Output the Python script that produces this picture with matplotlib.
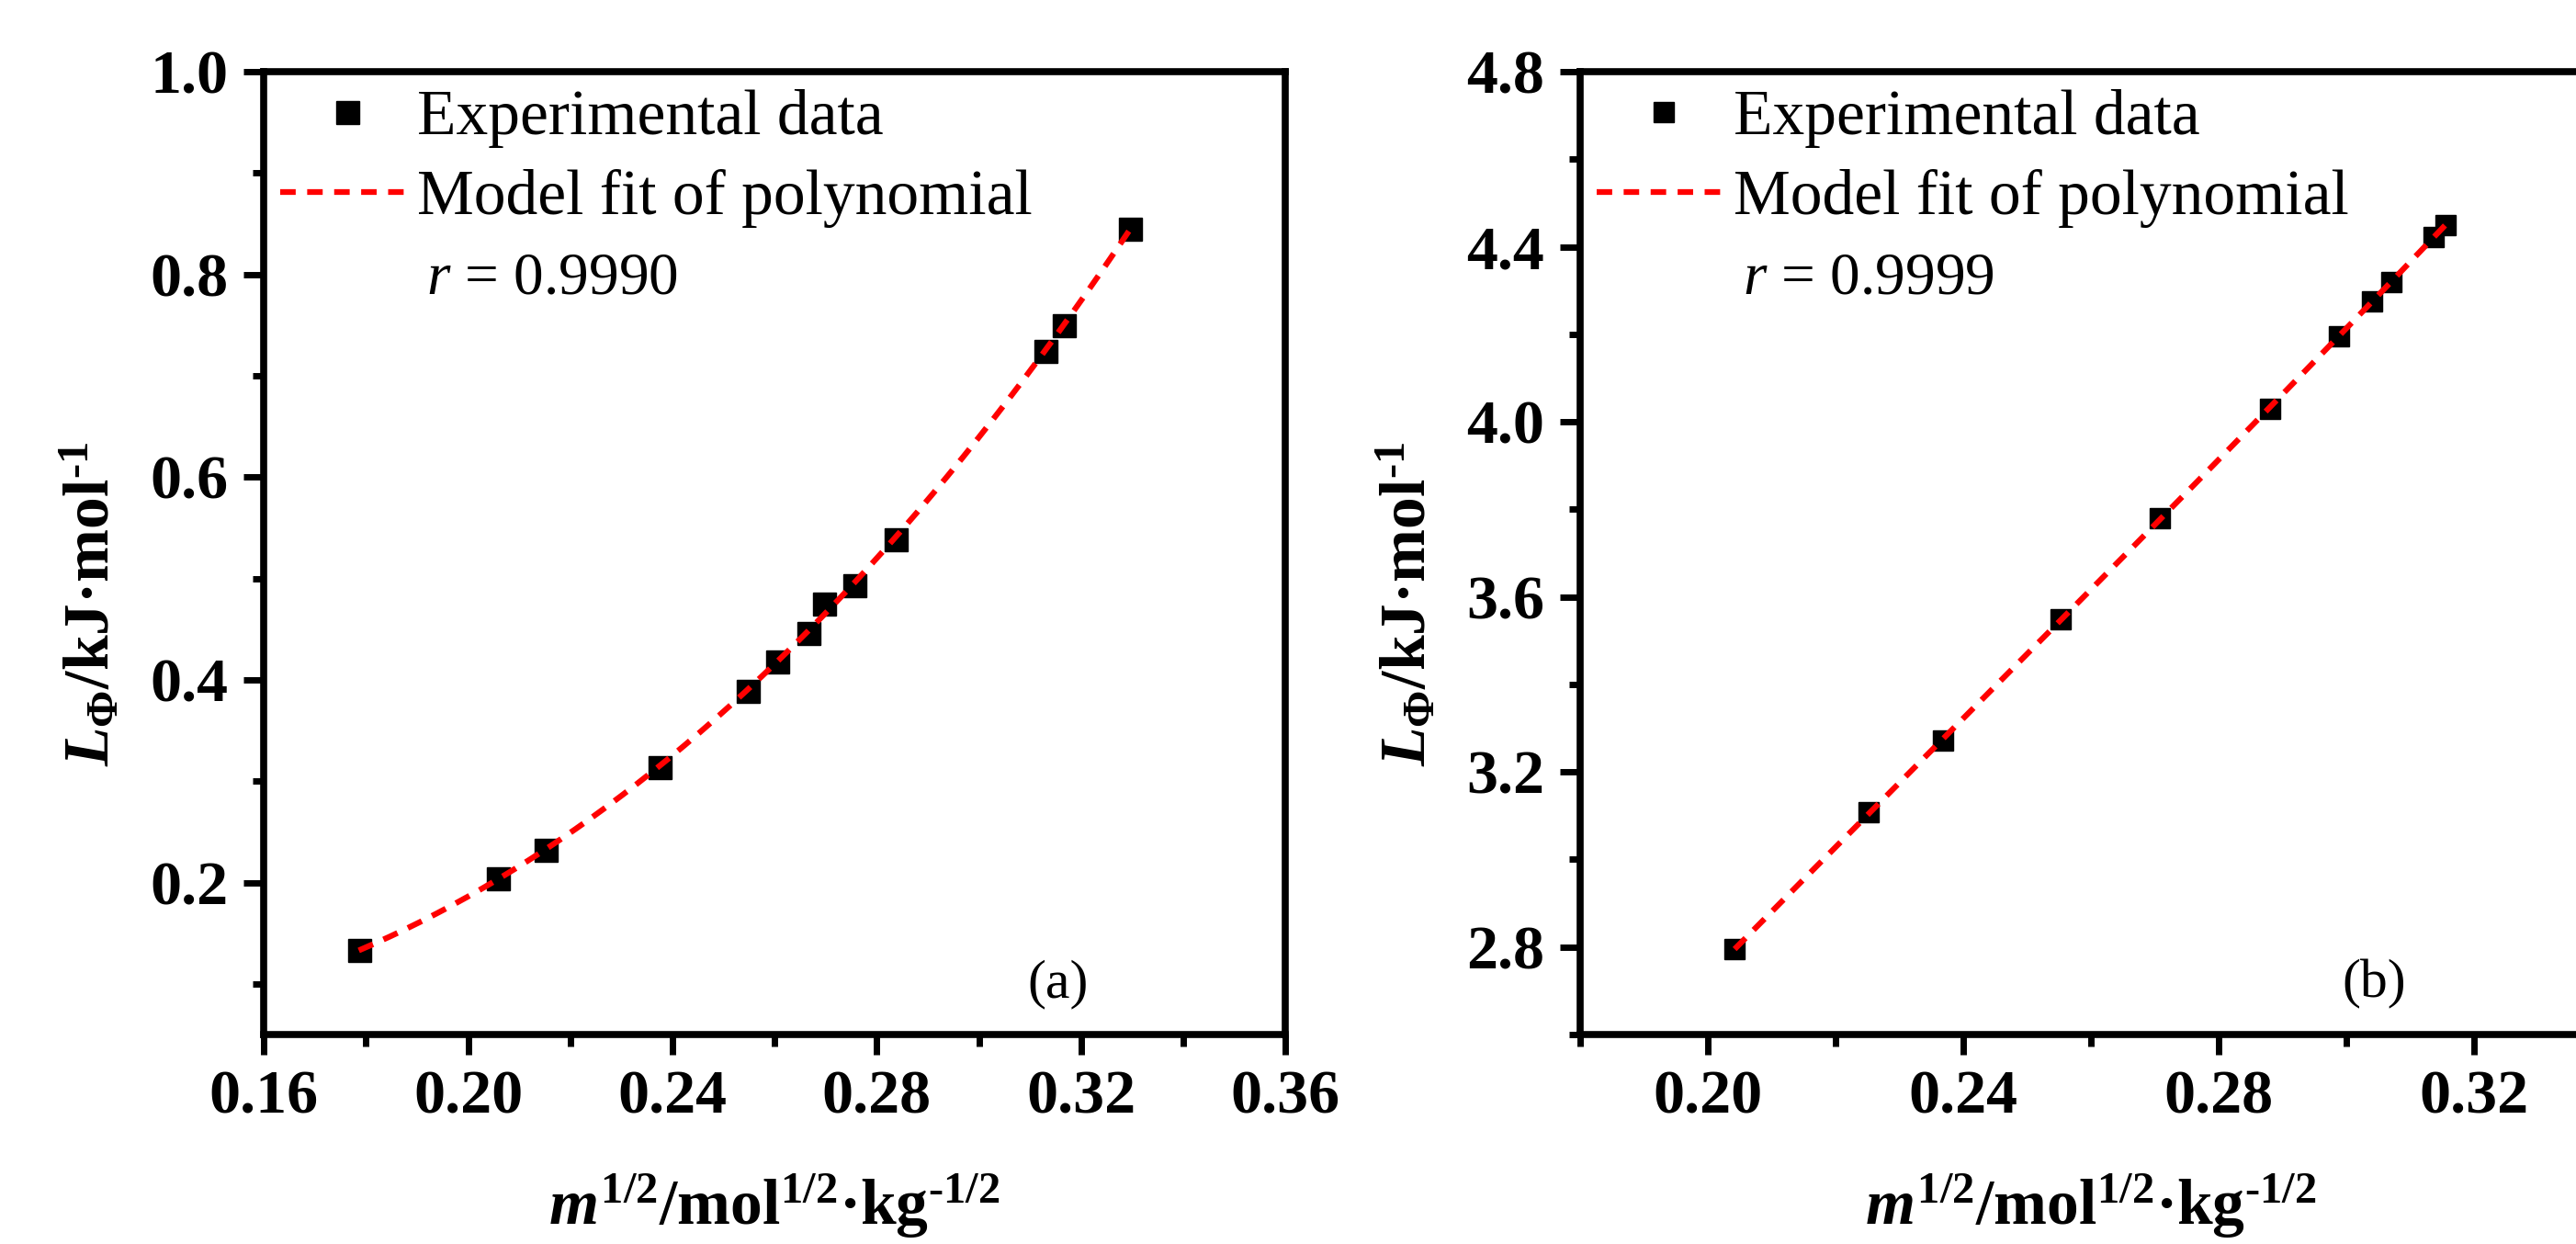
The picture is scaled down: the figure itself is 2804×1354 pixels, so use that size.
import numpy as np
import matplotlib
matplotlib.use("Agg")
import matplotlib.pyplot as plt
from matplotlib.ticker import MultipleLocator, FormatStrFormatter

# values
x_a = [0.1786, 0.2058, 0.2152, 0.2375, 0.2548, 0.2606, 0.2667, 0.2696, 0.2756, 0.2837, 0.3131, 0.3166, 0.3295]
y_a = [0.133, 0.204, 0.232, 0.314, 0.389, 0.418, 0.446, 0.475, 0.493, 0.539, 0.724, 0.750, 0.845]

x_b = [0.2042, 0.2252, 0.2369, 0.2552, 0.2708, 0.2880, 0.2989, 0.3040, 0.3070, 0.3137, 0.3156]
y_b = [2.795, 3.107, 3.272, 3.548, 3.779, 4.030, 4.196, 4.275, 4.320, 4.423, 4.450]

r_a = "0.9990"
r_b = "0.9999"

plt.rcParams["font.family"] = "serif"
plt.rcParams["font.serif"] = ["Liberation Serif", "DejaVu Serif"]
plt.rcParams["mathtext.fontset"] = "custom"
plt.rcParams["mathtext.rm"] = "Liberation Serif:bold"
plt.rcParams["mathtext.bf"] = "Liberation Serif:bold"
plt.rcParams["mathtext.it"] = "Liberation Serif:italic:bold"
plt.rcParams["mathtext.sf"] = "Liberation Serif:italic"

fig = plt.figure(figsize=(28.04, 13.54), dpi=100)
ax_a = fig.add_axes([0.1024, 0.1684, 0.3966, 0.774])
ax_b = fig.add_axes([0.6134, 0.1684, 0.3966, 0.774])


def draw(ax, x, y, r, xlim, ylim, xmaj, ymaj, yfmt, ms, tag):
    x = np.array(x)
    y = np.array(y)
    coef = np.polyfit(x, y, 3)
    xf = np.linspace(x.min(), x.max(), 200)
    ax.plot(x, y, ls="none", marker="s", ms=ms, color="black",
            label="Experimental data", zorder=2)
    ax.plot(xf, np.polyval(coef, xf), color="red", lw=4.5, dashes=(2.7, 2.0),
            label="Model fit of polynomial", zorder=3)

    ax.set_xlim(*xlim)
    ax.set_ylim(*ylim)
    ax.xaxis.set_major_locator(MultipleLocator(xmaj))
    ax.xaxis.set_minor_locator(MultipleLocator(xmaj / 2))
    ax.yaxis.set_major_locator(MultipleLocator(ymaj))
    ax.yaxis.set_minor_locator(MultipleLocator(ymaj / 2))
    ax.xaxis.set_major_formatter(FormatStrFormatter("%.2f"))
    ax.yaxis.set_major_formatter(FormatStrFormatter(yfmt))

    for s in ax.spines.values():
        s.set_linewidth(5.5)
    ax.tick_params(which="major", direction="out", length=16, width=5, labelsize=49)
    ax.tick_params(which="minor", direction="out", length=9, width=5)
    ax.tick_params(axis="x", pad=12)
    ax.tick_params(axis="y", pad=12)
    plt.setp(ax.get_xticklabels() + ax.get_yticklabels(), fontweight="bold")

    ax.set_xlabel("$\\mathit{m}^{1/2}\\mathrm{/mol^{1/2}\u00b7kg^{\u20101/2}}$", fontsize=50)
    ax.set_ylabel("$\\mathit{L}_{\\Phi}\\mathrm{/kJ\u00b7mol^{\u20101}}$", fontsize=50)
    ax.xaxis.set_label_coords(0.5, -0.143)
    ax.yaxis.set_label_coords(-0.137, 0.447)

    ax.legend(loc="upper left", bbox_to_anchor=(0.016, 0.982), frameon=False,
              fontsize=50, handlelength=2.1, handletextpad=0.05, borderpad=0,
              borderaxespad=0, labelspacing=0.34, numpoints=1)
    ax.text(0.159, 0.770, r"$\mathsf{r}$ = " + r, transform=ax.transAxes,
            fontsize=47, va="baseline", ha="left")
    ax.text(0.777, 0.052, tag, transform=ax.transAxes, fontsize=43,
            ha="center", va="center")


draw(ax_a, x_a, y_a, r_a, (0.16, 0.36), (0.05, 1.0), 0.04, 0.2, "%.1f", 18, "(a)")
draw(ax_b, x_b, y_b, r_b, (0.18, 0.34), (2.6, 4.8), 0.04, 0.4, "%.1f", 16, "(b)")

fig.savefig("out.png", dpi=100)
